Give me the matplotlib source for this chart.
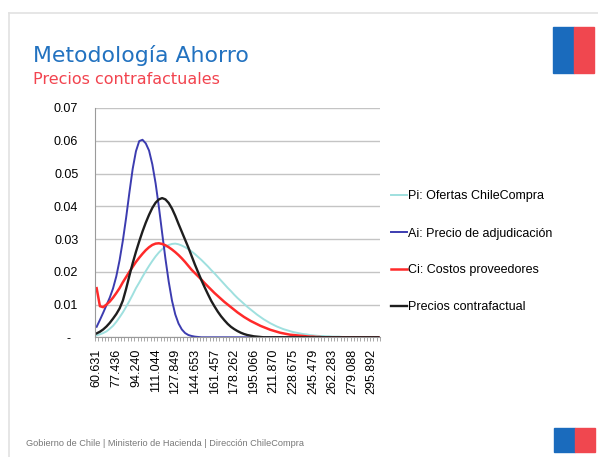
import numpy as np
import matplotlib
matplotlib.use("Agg")
import matplotlib.pyplot as plt
from matplotlib.patches import Rectangle
from matplotlib.lines import Line2D

# category labels shown on the x axis (every 6th category)
tick_labels = ["60.631", "77.436", "94.240", "111.044", "127.849", "144.653",
               "161.457", "178.262", "195.066", "211.870", "228.675", "245.479",
               "262.283", "279.088", "295.892"]

# Pi: Ofertas ChileCompra
pi_ofertas = [0.0006, 0.0009, 0.0013, 0.0018, 0.0026, 0.0035, 0.0047, 0.0061, 0.0076, 0.0093,
              0.0111, 0.0130, 0.0150, 0.0167, 0.0185, 0.0202, 0.0218, 0.0233, 0.0247, 0.0259,
              0.0269, 0.0277, 0.0282, 0.0285, 0.0286, 0.0284, 0.0280, 0.0275, 0.0269, 0.0262,
              0.0254, 0.0245, 0.0236, 0.0226, 0.0216, 0.0205, 0.0195, 0.0184, 0.0173, 0.0162,
              0.0151, 0.0141, 0.0130, 0.0120, 0.0111, 0.0102, 0.0093, 0.0085, 0.0077, 0.0069,
              0.0062, 0.0055, 0.0049, 0.0043, 0.0038, 0.0033, 0.0029, 0.0025, 0.0022, 0.0019,
              0.0016, 0.0014, 0.0012, 0.0010, 0.0009, 0.0007, 0.0006, 0.0005, 0.0004, 0.0004,
              0.0003, 0.0003, 0.0002, 0.0002, 0.0002, 0.0001, 0.0001, 0.0001, 0.0001, 0.0001,
              0.0001, 0.0001, 0.0, 0.0, 0.0, 0.0, 0.0]

# Ai: Precio de adjudicacion
ai_adjudicacion = [0.0032, 0.0053, 0.0075, 0.0098, 0.0121, 0.0149, 0.0186, 0.0235, 0.0295, 0.0365,
                   0.0442, 0.0514, 0.0568, 0.0599, 0.0603, 0.0592, 0.0570, 0.0528, 0.0470, 0.0398,
                   0.0318, 0.0240, 0.0170, 0.0112, 0.0070, 0.0042, 0.0024, 0.0013, 0.0007, 0.0004,
                   0.0002, 0.0001, 0.0, 0.0, 0.0, 0.0, 0.0, 0.0, 0.0, 0.0,
                   0.0, 0.0, 0.0, 0.0, 0.0, 0.0, 0.0, 0.0, 0.0, 0.0,
                   0.0, 0.0, 0.0, 0.0, 0.0, 0.0, 0.0, 0.0, 0.0, 0.0,
                   0.0, 0.0, 0.0, 0.0, 0.0, 0.0, 0.0, 0.0, 0.0, 0.0,
                   0.0, 0.0, 0.0, 0.0, 0.0, 0.0, 0.0, 0.0, 0.0, 0.0,
                   0.0, 0.0, 0.0, 0.0, 0.0, 0.0, 0.0]

# Ci: Costos proveedores
ci_costos = [0.0150, 0.0095, 0.0092, 0.0100, 0.0109, 0.0121, 0.0135, 0.0150, 0.0168, 0.0184,
             0.0200, 0.0215, 0.0230, 0.0243, 0.0255, 0.0266, 0.0275, 0.0282, 0.0286, 0.0287,
             0.0285, 0.0281, 0.0275, 0.0268, 0.0260, 0.0251, 0.0241, 0.0230, 0.0218, 0.0206,
             0.0196, 0.0186, 0.0176, 0.0165, 0.0155, 0.0145, 0.0135, 0.0126, 0.0117, 0.0108,
             0.0100, 0.0092, 0.0084, 0.0076, 0.0069, 0.0062, 0.0056, 0.0050, 0.0045, 0.0040,
             0.0035, 0.0031, 0.0027, 0.0023, 0.0020, 0.0017, 0.0014, 0.0012, 0.0010, 0.0008,
             0.0007, 0.0006, 0.0005, 0.0004, 0.0003, 0.0002, 0.0002, 0.0001, 0.0001, 0.0,
             0.0, 0.0, 0.0, 0.0, 0.0, 0.0, 0.0, 0.0, 0.0, 0.0,
             0.0, 0.0, 0.0, 0.0, 0.0, 0.0, 0.0]

# Precios contrafactual
contrafactual = [0.0012, 0.0017, 0.0024, 0.0033, 0.0044, 0.0057, 0.0071, 0.0088, 0.0112, 0.0148,
                 0.0188, 0.0226, 0.0261, 0.0293, 0.0323, 0.0350, 0.0374, 0.0395, 0.0411, 0.0421,
                 0.0425, 0.0421, 0.0410, 0.0393, 0.0371, 0.0346, 0.0322, 0.0298, 0.0274, 0.0248,
                 0.0222, 0.0198, 0.0174, 0.0152, 0.0131, 0.0111, 0.0094, 0.0078, 0.0064, 0.0052,
                 0.0041, 0.0032, 0.0025, 0.0019, 0.0014, 0.0010, 0.0007, 0.0005, 0.0003, 0.0002,
                 0.0001, 0.0, 0.0, 0.0, 0.0, 0.0, 0.0, 0.0, 0.0, 0.0,
                 0.0, 0.0, 0.0, 0.0, 0.0, 0.0, 0.0, 0.0, 0.0, 0.0,
                 0.0, 0.0, 0.0, 0.0, 0.0, 0.0, 0.0, 0.0, 0.0, 0.0,
                 0.0, 0.0, 0.0, 0.0, 0.0, 0.0, 0.0]

series_names = ["Pi: Ofertas ChileCompra", "Ai: Precio de adjudicación",
                "Ci: Costos proveedores", "Precios contrafactual"]

plt.rcParams['font.family'] = ['Liberation Sans', 'DejaVu Sans']

fig = plt.figure(figsize=(5.98, 4.57), dpi=100)
ax = fig.add_axes([95 / 598, 1 - 337.3 / 457, 285 / 598, (337.3 - 108) / 457])

x = np.arange(len(pi_ofertas))
ax.plot(x, pi_ofertas, color="#9fe0df", lw=1.4, label=series_names[0])
ax.plot(x, ai_adjudicacion, color="#3c3cb0", lw=1.4, label=series_names[1])
ax.plot(x, ci_costos, color="#ff2a2a", lw=1.8, label=series_names[2])
ax.plot(x, contrafactual, color="#1e1e1e", lw=1.7, label=series_names[3])

ax.set_xlim(-0.5, len(x) - 0.5)
ax.set_ylim(0, 0.07)
ax.set_yticks(np.arange(0, 0.071, 0.01))
ax.set_yticklabels(["-  "] + ["%.2f" % v for v in np.arange(0.01, 0.071, 0.01)], fontsize=9)
ax.grid(axis="y", color="#c4c4c4", lw=1)
ax.set_axisbelow(True)
ax.tick_params(axis="y", length=0, pad=12)

ax.set_xticks(np.arange(0, len(x), 6))
ax.set_xticklabels(tick_labels, rotation=90, fontsize=9)
ax.set_xticks(np.arange(-0.5, len(x), 1), minor=True)
ax.tick_params(axis="x", which="major", length=0, pad=8)
ax.tick_params(axis="x", which="minor", length=3, color="#9a9a9a", width=0.6)

for s in ["top", "right"]:
    ax.spines[s].set_visible(False)
ax.spines["left"].set_color("#9a9a9a")
ax.spines["bottom"].set_color("#9a9a9a")

leg = ax.legend(loc="center left", bbox_to_anchor=(380 / 598, 1 - 252 / 457),
                bbox_transform=fig.transFigure, frameon=False, fontsize=9,
                handlelength=1.25, handletextpad=0.05, labelspacing=2.0)

# slide decoration
fig.add_artist(Line2D([9 / 598, 9 / 598], [0, 1 - 12.5 / 457], color="#e2e2e2", lw=1.2))
fig.add_artist(Line2D([9 / 598, 1], [1 - 12.5 / 457, 1 - 12.5 / 457], color="#e2e2e2", lw=1.2))
fig.text(33 / 598, 1 - 56 / 457, "Metodología Ahorro", color="#2272c0", fontsize=15.8,
         family="DejaVu Sans", va="center")
fig.text(33 / 598, 1 - 80 / 457, "Precios contrafactuales", color="#f2444f", fontsize=11.5,
         family="DejaVu Sans", va="center")
fig.text(26 / 598, 1 - 443 / 457,
         "Gobierno de Chile | Ministerio de Hacienda | Dirección ChileCompra",
         color="#777777", fontsize=6.6, va="center")

for (x0, y0, h) in [(553, 27, 46), (554, 428, 24)]:
    w = 20.5
    fig.add_artist(Rectangle((x0 / 598, 1 - (y0 + h) / 457), w / 598, h / 457,
                             color="#1a6bbd", transform=fig.transFigure))
    fig.add_artist(Rectangle(((x0 + w) / 598, 1 - (y0 + h) / 457), w / 598, h / 457,
                             color="#f0474f", transform=fig.transFigure))

fig.savefig("out.png", dpi=100)
